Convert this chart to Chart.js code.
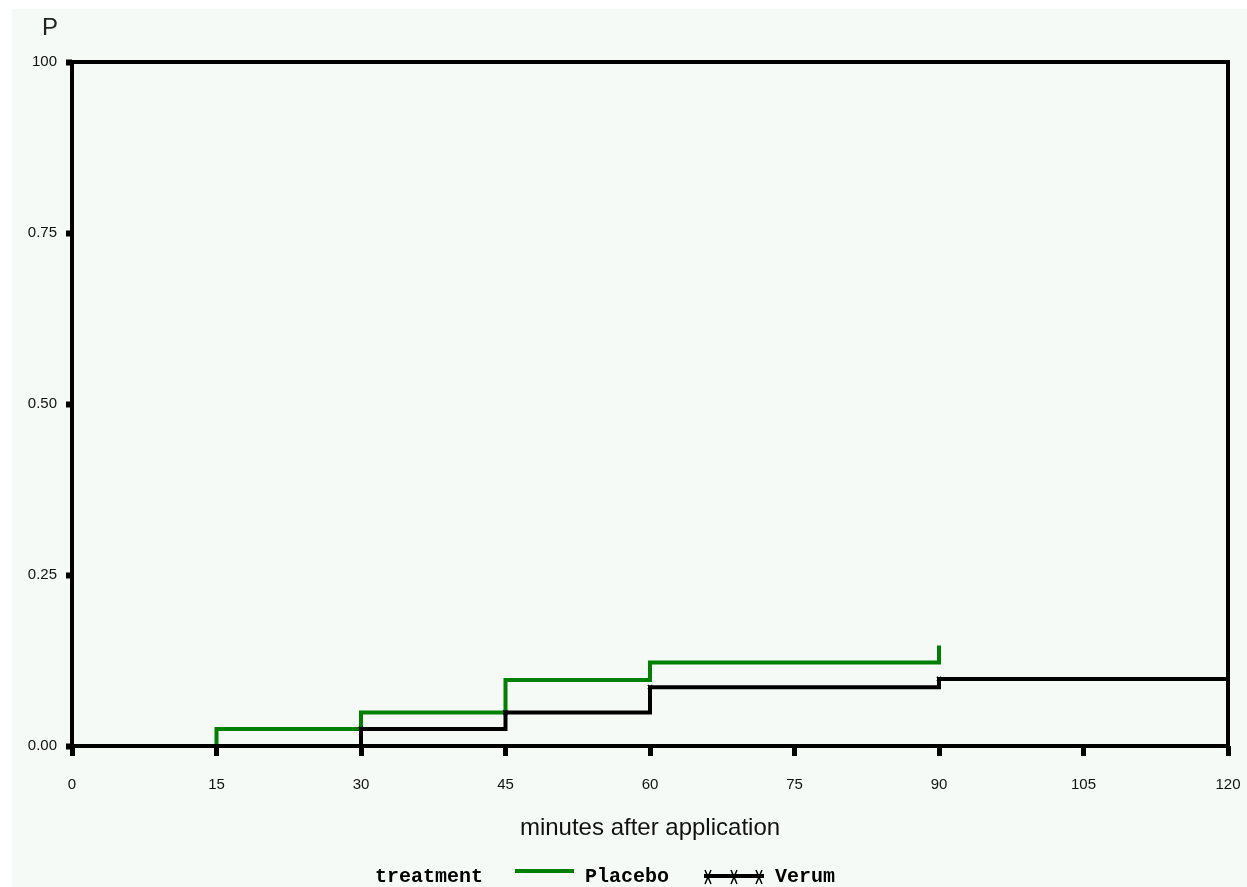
<!DOCTYPE html>
<html>
<head>
<meta charset="utf-8">
<script src="https://cdn.jsdelivr.net/npm/chart.js@4.4.1/dist/chart.umd.min.js"></script>
<style>
  html, body { margin: 0; padding: 0; background: #ffffff; }
  #wrap { position: relative; width: 1247px; height: 887px; }
  canvas { display: block; }
</style>
</head>
<body>
<div id="wrap"><canvas id="c" width="1247" height="887"></canvas></div>
<script>
// ---- data ----
const placeboTimes  = [0, 15, 30, 45, 60, 90];
const placeboValues = [0, 0.025, 0.049, 0.0965, 0.122, 0.147];
const verumTimes    = [0, 30, 45, 60, 90, 120];
const verumValues   = [0, 0.025, 0.049, 0.086, 0.098, 0.098];
const xTickLabels   = ['0', '15', '30', '45', '60', '75', '90', '105', '120'];
const yTickLabels   = ['0.00', '0.25', '0.50', '0.75', '100'];
const seriesNames   = ['Placebo', 'Verum'];
const legendTitle   = 'treatment';
const xAxisTitle    = 'minutes after application';
const yAxisTitle    = 'P';

const BG = '#f5faf7';
const GREEN = '#008000';

function toPoints(xs, ys) { return xs.map((x, i) => ({ x: x, y: ys[i] })); }

const decorPlugin = {
  id: 'decor',
  beforeDraw(chart) {
    const ctx = chart.ctx;
    ctx.save();
    ctx.fillStyle = '#ffffff';
    ctx.fillRect(0, 0, chart.width, chart.height);
    ctx.fillStyle = BG;
    ctx.fillRect(12, 9, chart.width - 12, chart.height - 9);
    ctx.restore();
  },
  afterDraw(chart) {
    const ctx = chart.ctx;
    const a = chart.chartArea;
    ctx.save();
    // frame
    ctx.strokeStyle = '#000';
    ctx.lineWidth = 4;
    ctx.strokeRect(a.left, a.top, a.right - a.left, a.bottom - a.top);
    // y axis title "P"
    ctx.fillStyle = '#222';
    ctx.font = '24px "Liberation Sans", Arial, sans-serif';
    ctx.textAlign = 'left';
    ctx.textBaseline = 'alphabetic';
    ctx.fillText(yAxisTitle, 42, 35);
    // legend
    const ly = 877;
    ctx.fillStyle = '#000';
    ctx.font = 'bold 20px "Liberation Mono", "DejaVu Sans Mono", monospace';
    ctx.textBaseline = 'middle';
    ctx.fillText(legendTitle, 375, ly);
    // Placebo sample
    ctx.strokeStyle = GREEN;
    ctx.lineWidth = 4;
    ctx.beginPath(); ctx.moveTo(515, 871); ctx.lineTo(574, 871); ctx.stroke();
    ctx.fillText(seriesNames[0], 585, ly);
    // Verum sample
    ctx.strokeStyle = '#000';
    ctx.lineWidth = 4;
    ctx.beginPath(); ctx.moveTo(704, 876); ctx.lineTo(764, 876); ctx.stroke();
    ctx.lineWidth = 1.5;
    [708, 734, 759].forEach(function (mx) {
      ctx.beginPath();
      ctx.moveTo(mx - 3, 870); ctx.lineTo(mx + 3, 884);
      ctx.moveTo(mx + 3, 870); ctx.lineTo(mx - 3, 884);
      ctx.stroke();
    });
    ctx.fillText(seriesNames[1], 775, ly);
    ctx.restore();
  }
};

const tickFont = { family: '"Liberation Sans", Arial, sans-serif', size: 15 };

new Chart(document.getElementById('c'), {
  type: 'line',
  data: {
    datasets: [
      {
        label: seriesNames[0],
        data: toPoints(placeboTimes, placeboValues),
        borderColor: GREEN,
        backgroundColor: GREEN,
        borderWidth: 4,
        stepped: true,
        pointRadius: 0,
        fill: false,
        order: 2
      },
      {
        label: seriesNames[1],
        data: toPoints(verumTimes, verumValues),
        borderColor: '#000',
        backgroundColor: '#000',
        borderWidth: 4,
        stepped: true,
        pointStyle: 'crossRot',
        pointRadius: (c) => (c.dataIndex === 0 ? 0 : 3),
        pointBorderWidth: 1.5,
        pointBorderColor: '#000',
        fill: false,
        order: 1
      }
    ]
  },
  options: {
    responsive: false,
    animation: false,
    devicePixelRatio: 1,
    layout: { padding: { left: 0, top: 62, right: 19, bottom: 44 } },
    plugins: {
      legend: { display: false },
      title: { display: false },
      tooltip: { enabled: false }
    },
    scales: {
      x: {
        type: 'linear',
        min: 0,
        max: 120,
        afterFit: (s) => { s.height = 97; s.paddingLeft = 0; s.paddingRight = 0; },
        ticks: {
          stepSize: 15,
          autoSkip: false,
          maxRotation: 0,
          padding: 20,
          color: '#111',
          font: tickFont,
          callback: (v, i) => xTickLabels[i]
        },
        grid: {
          display: true,
          drawOnChartArea: false,
          drawTicks: true,
          tickLength: 10,
          tickWidth: 5,
          tickColor: '#000',
          color: '#000'
        },
        border: { display: false },
        title: {
          display: true,
          text: xAxisTitle,
          color: '#111',
          font: { family: '"Liberation Sans", Arial, sans-serif', size: 24 },
          padding: { top: 0, bottom: 0 }
        }
      },
      y: {
        type: 'linear',
        min: 0,
        max: 1,
        afterFit: (s) => { s.width = 72; s.paddingTop = 0; s.paddingBottom = 0; },
        ticks: {
          stepSize: 0.25,
          autoSkip: false,
          padding: 9,
          color: '#111',
          font: tickFont,
          callback: (v, i) => yTickLabels[i]
        },
        grid: {
          display: true,
          drawOnChartArea: false,
          drawTicks: true,
          tickLength: 6,
          tickWidth: 6,
          tickColor: '#000',
          color: '#000'
        },
        border: { display: false }
      }
    }
  },
  plugins: [decorPlugin]
});
</script>
</body>
</html>
